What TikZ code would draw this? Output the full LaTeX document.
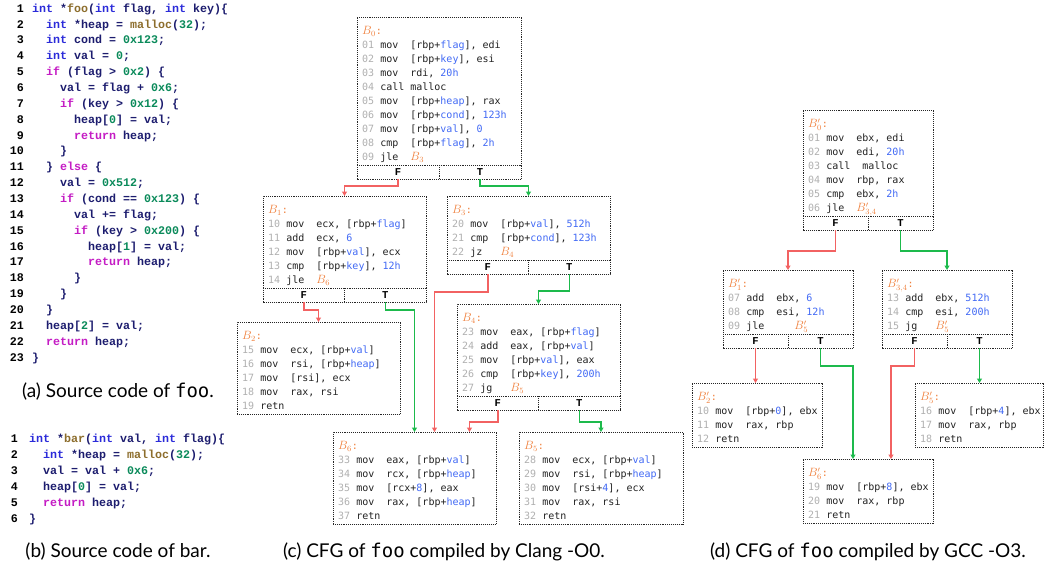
\documentclass[tikz,border=0pt]{standalone}
\usepackage[no-math]{fontspec}
\usetikzlibrary{arrows.meta,calc}
\newfontfamily\srcfont{Liberation Mono}
\newfontfamily\asmfont{DejaVu Sans Mono}
\newfontfamily\ftfont{Liberation Mono}
\newfontfamily\capfont{Lato}
\newfontfamily\captt{DejaVu Sans Mono}
\definecolor{skw}{HTML}{2B2BD9}
\definecolor{sid}{HTML}{1C1C6E}
\definecolor{snum}{HTML}{0A8A5A}
\definecolor{sfn}{HTML}{8C6D2C}
\definecolor{sctl}{HTML}{C41CC4}
\definecolor{lgray}{HTML}{B0B0B0}
\definecolor{opblue}{HTML}{4169F5}
\definecolor{orng}{HTML}{F0803C}
\definecolor{asmtxt}{HTML}{222222}
\definecolor{ered}{HTML}{F26262}
\definecolor{egreen}{HTML}{1DBA4C}
\newcommand\sK[1]{\textcolor{skw}{#1}}
\newcommand\sN[1]{\textcolor{snum}{#1}}
\newcommand\sF[1]{\textcolor{sfn}{#1}}
\newcommand\sC[1]{\textcolor{sctl}{#1}}
\newcommand\LN[1]{\textcolor{lgray}{#1}}
\newcommand\V[1]{\textcolor{opblue}{#1}}
\newcommand\LB[1]{\strut\textcolor{orng}{{\fontsize{12}{14}\selectfont$#1$}:}}
\newcommand\LBi[1]{\textcolor{orng}{{\fontsize{12}{14}\selectfont$#1$}}}
\newcommand\cfgbox[6]{%
  \node[body, minimum width=#4pt, minimum height=14*#5pt+8pt, anchor=north west] (#1) at (#2,#3) {};
  \node[asm, anchor=north west] (#1txt) at ([shift={(5,7.7)}]#1.north west) {#6};
}
\newcommand\ftrow[2]{%
  \node[ftcell, minimum width=#2pt, anchor=north west] (#1F) at (#1.south west) {F};
  \node[ftcell, minimum width=#2pt, anchor=north west] (#1T) at (#1F.north east) {T};
  \draw[dotline] (#1F.north west) |- (#1T.south east) -- (#1T.north east);
  \draw[dotline] (#1F.north east) -- (#1F.south east);
}
\begin{document}
\begin{tikzpicture}[x=1pt,y=-1pt,
  dotline/.style={draw=black!85, densely dotted, line width=0.9pt},
  body/.style={draw=black!85, densely dotted, line width=0.9pt, inner sep=0pt, outer sep=0pt, fill=white},
  ftcell/.style={inner sep=0pt, outer sep=0pt, minimum height=14pt, font=\fontsize{10.5}{11}\ftfont\bfseries},
  asm/.style={inner sep=0pt, align=left, text=asmtxt, font=\fontsize{10}{14}\asmfont},
  src/.style={inner sep=0pt, align=left, text=sid, font=\fontsize{11.66}{15.86}\srcfont\bfseries},
  srcb/.style={inner sep=0pt, align=left, text=sid, font=\fontsize{11.66}{16.1}\srcfont\bfseries},
  captxt/.style={inner sep=0pt, font=\fontsize{19}{22}\capfont},
  fedge/.style={draw=ered, line width=1.5pt, -{Triangle[length=4.5pt,width=5pt]}},
  tedge/.style={draw=egreen, line width=1.5pt, -{Triangle[length=4.5pt,width=5pt]}}]
\useasboundingbox (0,0) rectangle (1051,568);

% ---------- (a) source of foo
\node[src, align=right, text=black, anchor=north east] (anum) at (24,0.9) {\strut 1\\2\\3\\4\\5\\6\\7\\8\\9\\10\\11\\12\\13\\14\\15\\16\\17\\18\\19\\20\\21\\22\\23};
\node[src, anchor=north west] (acode) at (32,0.9) {\strut\sK{int} *\sF{foo}(\sK{int} flag, \sK{int} key)\{\\
~~\sK{int} *heap = \sF{malloc}(\sN{32});\\
~~\sK{int} cond = \sN{0x123};\\
~~\sK{int} val = \sN{0};\\
~~\sC{if} (flag > \sN{0x2}) \{\\
~~~~val = flag + \sN{0x6};\\
~~~~\sC{if} (key > \sN{0x12}) \{\\
~~~~~~heap[\sN{0}] = val;\\
~~~~~~\sC{return} heap;\\
~~~~\}\\
~~\} \sC{else} \{\\
~~~~val = \sN{0x512};\\
~~~~\sC{if} (cond == \sN{0x123}) \{\\
~~~~~~val += flag;\\
~~~~~~\sC{if} (key > \sN{0x200}) \{\\
~~~~~~~~heap[\sN{1}] = val;\\
~~~~~~~~\sC{return} heap;\\
~~~~~~\}\\
~~~~\}\\
~~\}\\
~~heap[\sN{2}] = val;\\
~~\sC{return} heap;\\
\}};
\node[captxt] (capa) at (118,392) {(a) Source code of {\captt foo}.};

% ---------- (b) source of bar
\node[srcb, align=right, text=black, anchor=north east] (bnum) at (18,431) {\strut 1\\2\\3\\4\\5\\6};
\node[srcb, anchor=north west] (bcode) at (29,431) {\strut\sK{int} *\sF{bar}(\sK{int} val, \sK{int} flag)\{\\
~~\sK{int} *heap = \sF{malloc}(\sN{32});\\
~~val = val + \sN{0x6};\\
~~heap[\sN{0}] = val;\\
~~\sC{return} heap;\\
\}};
\node[captxt] (capb) at (118,552) {(b) Source code of bar.};

% ---------- (c) Clang -O0
\cfgbox{b0}{357}{17}{164}{10}{\LB{B_0}\\
\LN{01} mov~~[rbp+\V{flag}], edi\\
\LN{02} mov~~[rbp+\V{key}], esi\\
\LN{03} mov~~rdi, \V{20h}\\
\LN{04} call malloc\\
\LN{05} mov~~[rbp+\V{heap}], rax\\
\LN{06} mov~~[rbp+\V{cond}], \V{123h}\\
\LN{07} mov~~[rbp+\V{val}], \V{0}\\
\LN{08} cmp~~[rbp+\V{flag}], \V{2h}\\
\LN{09} jle~~\LBi{B_3}}
\ftrow{b0}{82}

\cfgbox{b1}{263}{196}{163}{6}{\LB{B_1}\\
\LN{10} mov~~ecx, [rbp+\V{flag}]\\
\LN{11} add~~ecx, \V{6}\\
\LN{12} mov~~[rbp+\V{val}], ecx\\
\LN{13} cmp~~[rbp+\V{key}], \V{12h}\\
\LN{14} jle~~\LBi{B_6}}
\ftrow{b1}{81.5}

\cfgbox{b3}{447}{196}{163}{4}{\LB{B_3}\\
\LN{20} mov~~[rbp+\V{val}], \V{512h}\\
\LN{21} cmp~~[rbp+\V{cond}], \V{123h}\\
\LN{22} jz~~~\LBi{B_4}}
\ftrow{b3}{81.5}

\cfgbox{b2}{237}{322}{163}{6}{\LB{B_2}\\
\LN{15} mov~~ecx, [rbp+\V{val}]\\
\LN{16} mov~~rsi, [rbp+\V{heap}]\\
\LN{17} mov~~[rsi], ecx\\
\LN{18} mov~~rax, rsi\\
\LN{19} retn}

\cfgbox{b4}{457}{304}{163}{6}{\LB{B_4}\\
\LN{23} mov~~eax, [rbp+\V{flag}]\\
\LN{24} add~~eax, [rbp+\V{val}]\\
\LN{25} mov~~[rbp+\V{val}], eax\\
\LN{26} cmp~~[rbp+\V{key}], \V{200h}\\
\LN{27} jg~~~\LBi{B_5}}
\ftrow{b4}{81.5}

\cfgbox{b6}{333}{432}{163}{6}{\LB{B_6}\\
\LN{33} mov~~eax, [rbp+\V{val}]\\
\LN{34} mov~~rcx, [rbp+\V{heap}]\\
\LN{35} mov~~[rcx+\V{8}], eax\\
\LN{36} mov~~rax, [rbp+\V{heap}]\\
\LN{37} retn}

\cfgbox{b5}{519}{432}{164}{6}{\LB{B_5}\\
\LN{28} mov~~ecx, [rbp+\V{val}]\\
\LN{29} mov~~rsi, [rbp+\V{heap}]\\
\LN{30} mov~~[rsi+\V{4}], ecx\\
\LN{31} mov~~rax, rsi\\
\LN{32} retn}

\draw[fedge] (b0F.south) -- ++(0,7) -| (b1.north);
\draw[tedge] (b0T.south) -- ++(0,7) -| (b3.north);
\draw[fedge] (b1F.south) -- ++(0,8) -| (b2.north);
\draw[tedge] (b1T.south) -- ++(0,8) -| (b6.north);
\draw[fedge] (b3F.south) -- ++(0,18) -| ([xshift=20pt]b6.north);
\draw[tedge] (b3T.south) -- ++(0,17) -| (b4.north);
\draw[fedge] (b4F.south) -- ++(0,12) -| ([xshift=55pt]b6.north);
\draw[tedge] (b4T.south) -- ++(0,12) -| (b5.north);

\node[captxt] (capc) at (444,552) {(c) CFG of {\captt foo} compiled by Clang -O0.};

% ---------- (d) GCC -O3
\cfgbox{p0}{803}{110}{130}{7}{\LB{B'_0}\\
\LN{01} mov~~ebx, edi\\
\LN{02} mov~~edi, \V{20h}\\
\LN{03} call~~malloc\\
\LN{04} mov~~rbp, rax\\
\LN{05} cmp~~ebx, \V{2h}\\
\LN{06} jle~~\LBi{B'_{3,4}}}
\ftrow{p0}{65}

\cfgbox{p1}{723}{270}{130}{4}{\LB{B'_1}\\
\LN{07} add~~ebx, \V{6}\\
\LN{08} cmp~~esi, \V{12h}\\
\LN{09} jle~~~~~\LBi{B'_5}}
\ftrow{p1}{65}

\cfgbox{p34}{882}{270}{130}{4}{\LB{B'_{3,4}}\\
\LN{13} add~~ebx, \V{512h}\\
\LN{14} cmp~~esi, \V{200h}\\
\LN{15} jg~~~\LBi{B'_5}}
\ftrow{p34}{65}

\cfgbox{p2}{692}{383}{130}{4}{\LB{B'_2}\\
\LN{10} mov~~[rbp+\V{0}], ebx\\
\LN{11} mov~~rax, rbp\\
\LN{12} retn}

\cfgbox{p5}{915}{383}{128}{4}{\LB{B'_5}\\
\LN{16} mov~~[rbp+\V{4}], ebx\\
\LN{17} mov~~rax, rbp\\
\LN{18} retn}

\cfgbox{p6}{803}{459}{130}{4}{\LB{B'_6}\\
\LN{19} mov~~[rbp+\V{8}], ebx\\
\LN{20} mov~~rax, rbp\\
\LN{21} retn}

\draw[fedge] (p0F.south) -- ++(0,21) -| (p1.north);
\draw[tedge] (p0T.south) -- ++(0,21) -| (p34.north);
\draw[fedge] (p1F.south) -- (p1F.south |- p2.north);
\draw[tedge] (p1T.south) -- ++(0,18) -| ([xshift=-15pt]p6.north);
\draw[fedge] (p34F.south) -- ++(0,18) -| ([xshift=23pt]p6.north);
\draw[tedge] (p34T.south) -- (p34T.south |- p5.north);

\node[captxt] (capd) at (868,552) {(d) CFG of {\captt foo} compiled by GCC -O3.};
\end{tikzpicture}
\end{document}
